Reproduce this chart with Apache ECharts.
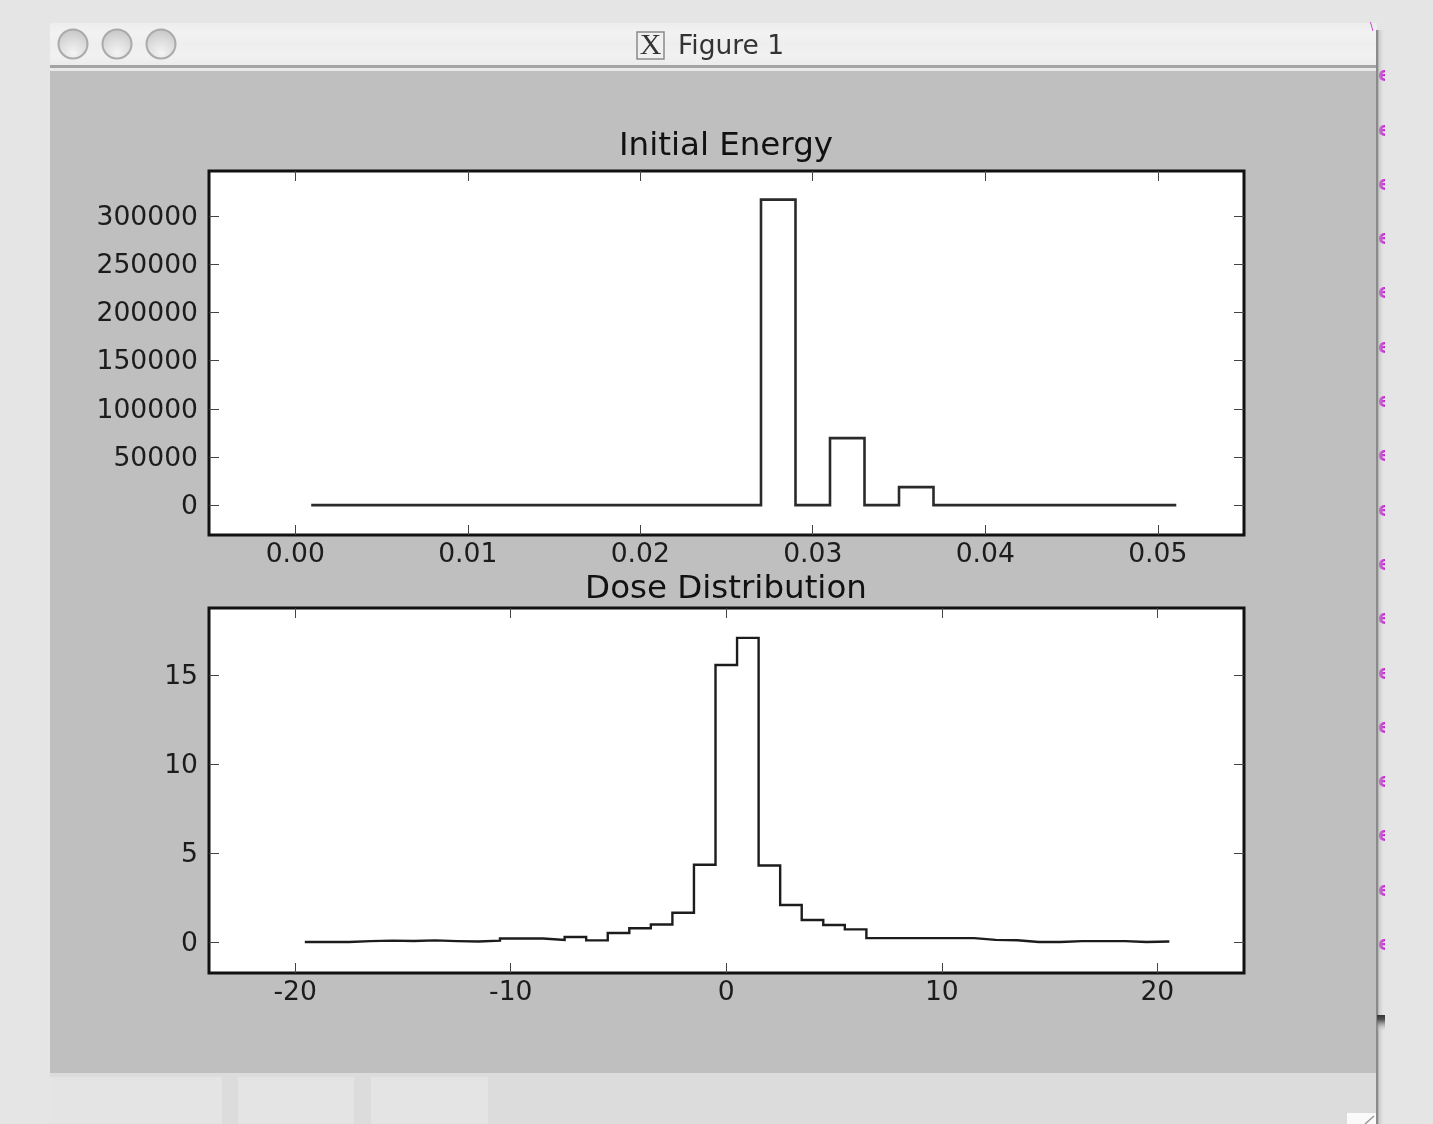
<!DOCTYPE html>
<html>
<head>
<meta charset="utf-8">
<style>
html,body{margin:0;padding:0;background:#e5e5e5;overflow:hidden}
#c{width:1433px;height:1124px;filter:blur(0.6px)}
</style>
<script src="https://cdn.jsdelivr.net/npm/echarts@6/dist/echarts.min.js"></script>
</head>
<body>
<div id="c"></div>
<script>
const energyEdges = [0.001,0.003,0.005,0.007,0.009,0.011,0.013,0.015,0.017,0.019,0.021,0.023,0.025,0.027,0.029,0.031,0.033,0.035,0.037,0.039,0.041,0.043,0.045,0.047,0.049,0.051];
const energyCounts = [0,0,0,0,0,0,0,0,0,0,0,0,0,317000,0,69500,0,18700,0,0,0,0,0,0,0];
const doseEdges = [-19.5,-18.5,-17.5,-16.5,-15.5,-14.5,-13.5,-12.5,-11.5,-10.5,-9.5,-8.5,-7.5,-6.5,-5.5,-4.5,-3.5,-2.5,-1.5,-0.5,0.5,1.5,2.5,3.5,4.5,5.5,6.5,7.5,8.5,9.5,10.5,11.5,12.5,13.5,14.5,15.5,16.5,17.5,18.5,19.5,20.5];
const doseValues = [0,0,0.05,0.08,0.06,0.09,0.05,0.03,0.08,0.2,0.2,0.11,0.28,0.09,0.51,0.77,0.98,1.64,4.34,15.56,17.08,4.3,2.08,1.24,0.96,0.71,0.22,0.22,0.22,0.22,0.22,0.12,0.1,0,0,0.05,0.05,0.05,0,0.03];
const energyXTicks = [0,0.01,0.02,0.03,0.04,0.05];
const energyYTicks = [0,50000,100000,150000,200000,250000,300000];
const doseXTicks = [-20,-10,0,10,20];
const doseYTicks = [0,5,10,15];
const titles = ['Initial Energy','Dose Distribution'];
const windowTitle = 'Figure 1';

const stepData = (edges, vals) => edges.map((e,i)=>[e, i<vals.length ? vals[i] : vals[vals.length-1]]);

const FONT = '"DejaVu Sans"';
const INK = '#1c1c1c';
const tick = (vals)=>({show:true,inside:true,length:10,customValues:vals,lineStyle:{color:'#444',width:1}});
function xAxes(gridIndex,min,max,ticks,fmt){
  return [
    {type:'value',z:6,gridIndex,min,max,position:'bottom',axisLine:{show:false,onZero:false},splitLine:{show:false},axisTick:tick(ticks),
     axisLabel:{customValues:ticks,margin:7,fontFamily:FONT,fontSize:26.6,color:INK,formatter:fmt}},
    {type:'value',z:6,gridIndex,min,max,position:'top',axisLine:{show:false,onZero:false},splitLine:{show:false},axisTick:tick(ticks),axisLabel:{show:false}}
  ];
}
function yAxes(gridIndex,min,max,ticks){
  return [
    {type:'value',z:6,gridIndex,min,max,position:'left',axisLine:{show:false,onZero:false},splitLine:{show:false},axisTick:tick(ticks),
     axisLabel:{customValues:ticks,margin:11,fontFamily:FONT,fontSize:26.6,color:INK,verticalAlign:'top',lineHeight:4,formatter:v=>String(v)}},
    {type:'value',z:6,gridIndex,min,max,position:'right',axisLine:{show:false,onZero:false},splitLine:{show:false},axisTick:tick(ticks),axisLabel:{show:false}}
  ];
}

// window chrome
const g = [];
const rect=(x,y,w,h,fill,z)=>g.push({type:'rect',silent:true,z:z||0,shape:{x,y,width:w,height:h},style:{fill}});
const vgrad=(stops)=>({type:'linear',x:0,y:0,x2:0,y2:1,colorStops:stops});
const hgrad=(stops)=>({type:'linear',x:0,y:0,x2:1,y2:0,colorStops:stops});
rect(50,71,1327,1002,'#bfbfbf');
rect(50,1073,1327,51,'#dcdcdc');
rect(50,1077,172,47,'#e4e4e4');
rect(238,1077,116,47,'#e4e4e4');
rect(371,1077,117,47,'#e4e4e4');
rect(1347,1113,29,11,'#fafafa');
g.push({type:'line',silent:true,shape:{x1:1365,y1:1124,x2:1374,y2:1116},style:{stroke:'#999',lineWidth:1.5}});
rect(50,23,1327,43,vgrad([{offset:0,color:'#ededed'},{offset:.25,color:'#f2f2f2'},{offset:.5,color:'#eeeeee'},{offset:.75,color:'#f1f1f1'},{offset:1,color:'#ebebeb'}]));
rect(50,65,1327,3,'#a4a4a4');
rect(50,68,1327,3,'#e9e9e9');
[73,117,161].forEach(cx=>{
  g.push({type:'circle',silent:true,shape:{cx,cy:44,r:14.5},style:{
    fill:{type:'radial',x:.5,y:.8,r:.75,colorStops:[{offset:0,color:'#f4f4f4'},{offset:.55,color:'#dedede'},{offset:1,color:'#c8c8c8'}]},
    stroke:'#aaaaaa',lineWidth:2}});
});
rect(637,32,27,27,'#f0f0f0');
g.push({type:'rect',silent:true,shape:{x:637,y:32,width:27,height:27},style:{fill:'none',stroke:'#8a8a8a',lineWidth:1.5}});
g.push({type:'text',silent:true,style:{x:650.5,y:46,text:'X',align:'center',verticalAlign:'middle',font:'30px "Liberation Serif"',fill:'#333'}});
g.push({type:'text',silent:true,style:{x:678,y:47,text:windowTitle,align:'left',verticalAlign:'middle',font:'26.5px "DejaVu Sans"',fill:'#333'}});
// right edge of the window and the clipped text behind it
for(let i=0;i<17;i++){
  g.push({type:'text',silent:true,z:1,style:{x:1378,y:76+i*54.3,text:'e',align:'left',verticalAlign:'middle',font:'bold 20px "DejaVu Sans"',fill:'#c020d0'}});
}
g.push({type:'text',silent:true,z:1,style:{x:1370,y:27,text:'\\',align:'left',verticalAlign:'middle',font:'10px "DejaVu Sans"',fill:'#c030c8'}});
rect(1385,0,48,1124,'#e5e5e5',2);
rect(1377,30,8,1094,hgrad([{offset:0,color:'rgba(130,130,130,.9)'},{offset:.3,color:'rgba(185,185,185,.55)'},{offset:1,color:'rgba(229,229,229,0)'}]),3);
rect(1376,30,2,1094,'#8a8a8a',3);
rect(1377,1015,8,16,vgrad([{offset:0,color:'#333'},{offset:.3,color:'#555'},{offset:1,color:'rgba(200,200,200,0)'}]),4);

const chart = echarts.init(document.getElementById('c'),null,{renderer:'canvas'});
const titleStyle={fontFamily:FONT,fontSize:32.5,fontWeight:'normal',color:'#111'};
chart.setOption({
  animation:false,
  backgroundColor:'#e5e5e5',
  graphic:{elements:g},
  title:[
    {z:8,text:titles[0],left:726,top:130,textAlign:'center',textStyle:titleStyle,padding:0},
    {z:8,text:titles[1],left:726,top:573,textAlign:'center',textStyle:titleStyle,padding:0}
  ],
  grid:[
    {z:5,left:209,top:171,width:1035,height:364,show:true,backgroundColor:'#fff',borderColor:'#111',borderWidth:3},
    {z:5,left:209,top:608,width:1035,height:365,show:true,backgroundColor:'#fff',borderColor:'#111',borderWidth:3}
  ],
  xAxis:[...xAxes(0,-0.005,0.055,energyXTicks,v=>v.toFixed(2)),...xAxes(1,-24,24.02,doseXTicks,v=>String(v))],
  yAxis:[...yAxes(0,-31000,346700,energyYTicks),...yAxes(1,-1.74,18.76,doseYTicks)],
  series:[
    {name:titles[0],z:7,type:'line',step:'end',xAxisIndex:0,yAxisIndex:0,showSymbol:false,data:stepData(energyEdges,energyCounts),
     lineStyle:{color:'#2a2a2a',width:2.6,cap:'square',join:'miter'}},
    {name:titles[1],z:7,type:'line',step:'end',xAxisIndex:2,yAxisIndex:2,showSymbol:false,data:stepData(doseEdges,doseValues),
     lineStyle:{color:'#1c1c1c',width:2.4,cap:'square',join:'miter'}}
  ]
});
</script>
</body>
</html>
